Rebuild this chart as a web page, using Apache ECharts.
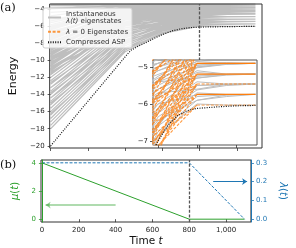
<!DOCTYPE html>
<html><head><meta charset="utf-8">
<script src="https://cdn.jsdelivr.net/npm/echarts@6/dist/echarts.min.js"></script>
<style>html,body{margin:0;padding:0;background:#fff}#c{width:296px;height:248px}</style>
</head><body><div id="c"></div>
<script>
// ---------------- data ----------------
const xTicks = [0, 200, 400, 600, 800, 1000];
const energyTicks = [-20, -18, -16, -14, -12, -10, -8, -6, -4];
const insetXTicks = [600, 800, 1000];
const insetYTicks = [-7, -6, -5];
const muTicks = [0, 2, 4];
const lamTicks = [0, 0.1, 0.2, 0.3];

// instantaneous lambda(t) eigenstates, energy at each time of grayT
const grayT = [0, 400, 600, 800, 950, 1100];
const grayE0 = [-18.0,-17.6,-17.2,-16.8,-16.4,-16.0,-15.6,-15.2,-14.8,-14.4,-14.0,-13.6,-13.2,-12.8,-12.4,-12.0,
  -11.7,-11.4,-11.1,-10.8,-10.5,-10.2,-9.9,-9.6,-9.3,-9.0,-8.7,-8.4,-8.1,-7.8,-7.5,-7.2,-6.9,-6.6,-6.3,-6.0,
  -5.6,-5.2,-4.8,-4.4,-4.0,-3.6,-3.2,-2.8,
  -16.2,-15.0,-13.8,-12.6,-14.4,-13.2,-11.0,-10.0,
  -11.55,-11.25,-10.95,-10.65,-10.35,-10.05,-9.75,-9.45,-9.15,-8.85,-8.55,-8.25,-7.95,-7.65,-7.35,-7.05,-6.75,-6.45,-6.15,-5.85,
  -3.9,-3.5,-3.3,-3.0,
  -9.2,-8.4,-7.6,-6.8,-6.0,-5.4];
const grayE400 = [-9.0,-8.8,-8.55,-8.3,-8.1,-7.85,-7.6,-7.4,-7.15,-6.9,-6.7,-6.45,-6.2,-6.0,-5.75,-5.5,
  -5.3,-6.2,-5.0,-5.9,-4.8,-5.6,-4.6,-5.3,-4.4,-5.1,-4.3,-4.9,-4.1,-4.7,-4.0,-4.5,-3.9,-4.4,-3.8,-4.2,
  -3.8,-4.0,-3.6,-3.9,-3.5,-3.7,-3.4,-3.6,
  -8.6,-8.0,-7.3,-6.6,-7.7,-7.0,-6.4,-5.8,
  -5.9,-5.2,-5.7,-5.0,-5.5,-4.8,-5.2,-4.6,-5.0,-4.5,-4.8,-4.3,-4.6,-4.2,-4.4,-4.0,-4.2,-3.8,-4.0,-3.7,
  -3.7,-3.5,-3.45,-3.5,
  -4.9,-4.6,-4.3,-4.1,-3.9,-3.8];
const grayE600 = [-6.85,-6.75,-6.6,-6.5,-6.35,-6.25,-6.1,-6.0,-5.85,-5.75,-5.6,-5.5,-5.35,-5.25,-5.1,-5.0,
  -4.9,-5.6,-4.7,-5.4,-4.5,-5.2,-4.3,-5.0,-4.2,-4.9,-4.1,-4.7,-4.0,-4.5,-3.9,-4.3,-3.8,-4.2,-3.7,-4.1,
  -3.7,-3.9,-3.55,-3.8,-3.45,-3.6,-3.35,-3.5,
  -6.95,-6.6,-6.2,-5.8,-6.45,-6.0,-5.7,-5.4,
  -5.3,-4.8,-5.1,-4.6,-4.9,-4.4,-4.7,-4.3,-4.55,-4.2,-4.4,-4.0,-4.25,-3.9,-4.1,-3.8,-3.95,-3.6,-3.8,-3.5,
  -3.65,-3.5,-3.4,-3.45,
  -4.4,-4.2,-4.0,-3.85,-3.7,-3.6];
const grayE800 = [-6.0,-5.9,-5.8,-5.7,-5.62,-5.5,-5.4,-5.3,-5.22,-5.1,-5.02,-4.95,-4.85,-4.75,-4.65,-4.55,
  -4.5,-5.15,-4.4,-5.0,-4.3,-4.85,-4.2,-4.7,-4.1,-4.6,-4.0,-4.45,-3.9,-4.3,-3.8,-4.2,-3.7,-4.1,-3.6,-4.0,
  -3.6,-3.85,-3.5,-3.75,-3.4,-3.55,-3.3,-3.45,
  -5.5,-5.25,-5.0,-4.95,-5.9,-5.75,-5.6,-5.3,
  -4.9,-4.5,-4.75,-4.35,-4.6,-4.15,-4.45,-4.05,-4.3,-3.95,-4.15,-3.8,-4.0,-3.7,-3.9,-3.6,-3.75,-3.5,-3.65,-3.4,
  -3.62,-3.48,-3.38,-3.42,
  -4.25,-4.05,-3.92,-3.78,-3.66,-3.55];
const grayE950 = [-6.03,-5.8,-5.75,-5.74,-5.5,-5.47,-5.46,-5.22,-5.2,-5.19,-4.93,-4.91,-4.9,-4.65,-4.63,-4.62,
  -4.38,-5.2,-4.36,-4.92,-4.36,-4.64,-4.12,-4.63,-4.11,-4.36,-3.88,-4.37,-3.87,-4.12,-3.63,-4.11,-3.62,-3.88,-3.4,-3.87,
  -3.6,-3.85,-3.6,-3.85,-3.35,-3.6,-3.35,-3.35,
  -5.47,-5.2,-4.92,-4.91,-5.76,-5.75,-5.47,-5.2,
  -4.88,-4.49,-4.62,-4.24,-4.49,-4.22,-4.47,-3.99,-4.24,-3.98,-4.23,-3.74,-3.98,-3.73,-3.97,-3.49,-3.73,-3.48,-3.72,-3.47,
  -3.6,-3.47,-3.35,-3.47,
  -4.3,-4.16,-4.03,-3.91,-3.79,-3.66];
const grayE1100 = [-6.03,-5.74,-5.74,-5.74,-5.46,-5.46,-5.46,-5.19,-5.19,-5.19,-4.9,-4.9,-4.9,-4.62,-4.62,-4.62,
  -4.35,-5.19,-4.35,-4.9,-4.35,-4.62,-4.1,-4.62,-4.1,-4.35,-3.85,-4.35,-3.85,-4.1,-3.6,-4.1,-3.6,-3.85,-3.35,-3.85,
  -3.6,-3.85,-3.6,-3.85,-3.35,-3.6,-3.35,-3.35,
  -5.46,-5.19,-4.9,-4.9,-5.74,-5.74,-5.46,-5.19,
  -4.9,-4.48,-4.62,-4.22,-4.48,-4.22,-4.48,-3.97,-4.22,-3.97,-4.22,-3.72,-3.97,-3.72,-3.97,-3.47,-3.72,-3.47,-3.72,-3.47,
  -3.6,-3.47,-3.35,-3.47,
  -4.29,-4.16,-4.03,-3.91,-3.79,-3.66];

// compressed ASP energy
const groundT = [0, 100, 200, 300, 400, 430, 470, 510, 560, 600, 650, 700, 750, 800, 900, 1000, 1100];
const groundE = [-20, -17.4, -14.8, -12.2, -9.6, -8.85, -8.35, -7.95, -7.4, -7.0, -6.58, -6.32, -6.18, -6.12, -6.08, -6.05, -6.04];

// lambda = 0 eigenstates: start energies (at orangeStartT) converging to each level at t = 800
const orangeStartT = 550;
const orangeSwitchT = 800;
const orangeEndT = 1100;
const orangeLevels = [-6.03, -5.74, -5.46, -5.19, -4.90, -4.62, -4.35, -4.10, -3.85, -3.60];
const orangeStarts = [
  [-7.4, -7.1],
  [-7.5, -7.0, -6.6],
  [-7.6, -7.2, -6.8, -6.3],
  [-7.8, -7.3, -6.9, -6.5, -6.0],
  [-7.9, -7.5, -7.0, -6.6, -6.2, -5.8],
  [-7.6, -7.0, -6.5, -6.0, -5.6],
  [-7.2, -6.6, -6.1, -5.6, -5.2],
  [-6.8, -6.2, -5.7, -5.2],
  [-6.4, -5.8, -5.3, -4.9],
  [-6.0, -5.4, -4.9]
];
const orangeSolidLevels = [-5.74, -5.19, -4.90];
const orangeDashedLevels = [-6.03, -5.46];

// panel (b)
const muT = [0, 800, 1100];
const muV = [4, 0, 0];
const lamT = [0, 800, 1100];
const lamV = [0.3, 0.3, 0];
const muArrow = [[400, 1], [20, 1]];
const lamArrow = [[930, 0.2], [1114, 0.2]];
const switchT = 800;

// ---------------- build ----------------
const FONT = 'DejaVu Sans';
function multiLines(T, cols) {
  const out = [];
  const n = cols[0].length;
  for (let i = 0; i < n; i++) {
    for (let k = 0; k < T.length; k++) out.push([T[k], cols[k][i]]);
    out.push([T[T.length - 1], '-']);
  }
  return out;
}
const grayData = multiLines(grayT, [grayE0, grayE400, grayE600, grayE800, grayE950, grayE1100]);
const groundData = groundT.map((t, i) => [t, groundE[i]]);
const fanData = [];
orangeLevels.forEach((L, j) => {
  orangeStarts[j].forEach(s => {
    fanData.push([orangeStartT, s]); fanData.push([orangeSwitchT, L]); fanData.push([orangeSwitchT, '-']);
  });
});
function levelData(levels) {
  const out = [];
  levels.forEach(L => { out.push([orangeSwitchT, L]); out.push([orangeEndT, L]); out.push([orangeEndT, '-']); });
  return out;
}
const minus = v => (v < 0 ? '\u2212' : '') + Math.abs(v);

const base = { type: 'line', symbol: 'none', showSymbol: false, animation: false, silent: true, clip: true,
  emphasis: { disabled: true }, connectNulls: false };
const vline = () => ({ silent: true, symbol: 'none', animation: false, label: { show: false },
  lineStyle: { color: '#555', width: 1.3, type: [3, 1.6] }, emphasis: { disabled: true },
  data: [{ xAxis: switchT }] });
const tickStyle = (c) => ({ show: true, inside: false, length: 3, lineStyle: { color: c, width: 0.8 } });

const GREEN = '#2ca02c', BLUE = '#1f77b4', ORANGE = '#ff7f0e', GRAY = '#bebebe', BLACK = '#111';
const GRAY_W = 1.2;

const option = {
  animation: false,
  legend: {
    z: 20, left: 43, top: 8, orient: 'vertical', selectedMode: false,
    data: ['gray', 'orange', 'asp'],
    formatter: n => ({ gray: 'Instantaneous\n{i|λ(t)} eigenstates', orange: '{i|λ} = 0 Eigenstates', asp: 'Compressed ASP' })[n],
    textStyle: { fontSize: 7, fontFamily: FONT, color: '#333', lineHeight: 7.5,
      rich: { i: { fontStyle: 'italic', fontSize: 7, fontFamily: FONT, color: '#333', lineHeight: 7.5 } } },
    itemWidth: 13, itemHeight: 6, itemGap: 3, padding: [2, 4, 2, 4],
    itemStyle: { opacity: 0 },
    backgroundColor: 'rgba(255,255,255,0.82)', borderColor: '#cccccc', borderWidth: 1, borderRadius: 2
  },
  grid: [
    { left: 41, top: 4, width: 221, height: 144, show: true, z: 5, backgroundColor: 'transparent', borderColor: '#333', borderWidth: 1 },
    { left: 153, top: 60, width: 104, height: 85, show: true, z: 10, backgroundColor: '#fff', borderColor: '#555', borderWidth: 1 },
    { left: 41, top: 160, width: 221, height: 65, show: true, z: 5, backgroundColor: 'transparent', borderColor: '#333', borderWidth: 1 }
  ],
  xAxis: [
    { gridIndex: 0, type: 'value', min: -5, max: 1135, axisLine: { show: false }, splitLine: { show: false },
      axisTick: Object.assign(tickStyle('#333'), { customValues: xTicks }), axisLabel: { show: false } },
    { gridIndex: 1, type: 'value', min: 574, max: 1108, z: 11, axisLine: { show: false }, splitLine: { show: false },
      axisTick: Object.assign(tickStyle('#333'), { customValues: insetXTicks }), axisLabel: { show: false } },
    { gridIndex: 2, type: 'value', min: -5, max: 1135, axisLine: { show: false }, splitLine: { show: false },
      axisTick: Object.assign(tickStyle('#333'), { customValues: xTicks }),
      axisLabel: { customValues: xTicks, fontSize: 7, fontFamily: FONT, color: '#222', margin: 4.5 },
      name: 'Time {i|t}', nameLocation: 'middle', nameGap: 14,
      nameTextStyle: { fontSize: 10.5, fontFamily: FONT, color: '#111',
        rich: { i: { fontStyle: 'italic', fontSize: 10.5, fontFamily: FONT, color: '#111' } } } }
  ],
  yAxis: [
    { gridIndex: 0, type: 'value', min: -20.25, max: -3.42, axisLine: { show: false }, splitLine: { show: false },
      axisTick: Object.assign(tickStyle('#333'), { customValues: energyTicks }),
      axisLabel: { customValues: energyTicks, formatter: minus, fontSize: 7, fontFamily: FONT, color: '#222', margin: 5 },
      name: 'Energy', nameLocation: 'middle', nameGap: 22,
      nameTextStyle: { fontSize: 11, fontFamily: FONT, color: '#111' } },
    { gridIndex: 1, type: 'value', min: -7.11, max: -4.81, z: 11, axisLine: { show: false }, splitLine: { show: false },
      axisTick: Object.assign(tickStyle('#333'), { customValues: insetYTicks }),
      axisLabel: { customValues: insetYTicks, formatter: minus, fontSize: 7, fontFamily: FONT, color: '#222', margin: 5 } },
    { gridIndex: 2, type: 'value', min: -0.2, max: 4.2, z: 6, position: 'left',
      axisLine: { show: true, lineStyle: { color: GREEN, width: 1 } }, splitLine: { show: false },
      axisTick: Object.assign(tickStyle(GREEN), { customValues: muTicks }),
      axisLabel: { customValues: muTicks, fontSize: 7, fontFamily: FONT, color: GREEN, margin: 5 },
      name: '{i|μ}({i|t})', nameLocation: 'middle', nameGap: 14,
      nameTextStyle: { fontSize: 10, fontFamily: FONT, color: GREEN,
        rich: { i: { fontStyle: 'italic', fontSize: 10, fontFamily: FONT, color: GREEN } } } },
    { gridIndex: 2, type: 'value', min: -0.015, max: 0.315, z: 6, position: 'right',
      axisLine: { show: true, lineStyle: { color: BLUE, width: 1 } }, splitLine: { show: false },
      axisTick: Object.assign(tickStyle(BLUE), { customValues: lamTicks }),
      axisLabel: { customValues: lamTicks, formatter: v => v.toFixed(1), fontSize: 7, fontFamily: FONT, color: BLUE, margin: 5 },
      name: '{i|λ}({i|t})', nameLocation: 'middle', nameGap: 22, nameRotate: -90,
      nameTextStyle: { fontSize: 10, fontFamily: FONT, color: BLUE,
        rich: { i: { fontStyle: 'italic', fontSize: 10, fontFamily: FONT, color: BLUE } } } }
  ],
  series: [
    Object.assign({}, base, { name: 'gray', color: GRAY, xAxisIndex: 0, yAxisIndex: 0, z: 2, data: grayData,
      lineStyle: { color: GRAY, width: GRAY_W } }),
    Object.assign({}, base, { name: 'asp', color: BLACK, xAxisIndex: 0, yAxisIndex: 0, z: 3, data: groundData,
      lineStyle: { color: BLACK, width: 1.2, type: [1, 1.4] }, markLine: vline() }),
    // inset
    Object.assign({}, base, { name: 'grayInset', color: GRAY, xAxisIndex: 1, yAxisIndex: 1, z: 12, data: grayData,
      lineStyle: { color: GRAY, width: 1 } }),
    Object.assign({}, base, { name: 'orange', color: ORANGE, xAxisIndex: 1, yAxisIndex: 1, z: 13, data: fanData,
      lineStyle: { color: ORANGE, width: 1.1, type: [3, 1.6], opacity: 0.8 } }),
    Object.assign({}, base, { name: 'orangeSolid', color: ORANGE, xAxisIndex: 1, yAxisIndex: 1, z: 13, data: levelData(orangeSolidLevels),
      lineStyle: { color: ORANGE, width: 1.3 } }),
    Object.assign({}, base, { name: 'orangeDashed', color: ORANGE, xAxisIndex: 1, yAxisIndex: 1, z: 13, data: levelData(orangeDashedLevels),
      lineStyle: { color: ORANGE, width: 1.3, type: [3, 1.6], opacity: 0.55 } }),
    Object.assign({}, base, { name: 'aspInset', color: BLACK, xAxisIndex: 1, yAxisIndex: 1, z: 14, data: groundData,
      lineStyle: { color: BLACK, width: 1.2, type: [1, 1.4] }, markLine: vline() }),
    // panel b
    Object.assign({}, base, { name: 'mu', color: GREEN, xAxisIndex: 2, yAxisIndex: 2, z: 3, data: muT.map((t, i) => [t, muV[i]]),
      lineStyle: { color: GREEN, width: 1 },
      markLine: { silent: true, animation: false, symbol: ['none', 'arrow'], symbolSize: [5, 5], label: { show: false },
        lineStyle: { color: 'rgba(44,160,44,0.5)', width: 1.5, type: 'solid' }, emphasis: { disabled: true },
        data: [[{ coord: muArrow[0] }, { coord: muArrow[1] }]] } }),
    Object.assign({}, base, { name: 'lam', color: BLUE, xAxisIndex: 2, yAxisIndex: 3, z: 3, data: lamT.map((t, i) => [t, lamV[i]]),
      lineStyle: { color: BLUE, width: 1, type: [3, 1.6] },
      markLine: { silent: true, animation: false, symbol: ['none', 'arrow'], symbolSize: [5, 5], label: { show: false },
        lineStyle: { color: BLUE, width: 1, type: 'solid' }, emphasis: { disabled: true },
        data: [[{ coord: lamArrow[0] }, { coord: lamArrow[1] }]] } }),
    Object.assign({}, base, { name: 'vb', xAxisIndex: 2, yAxisIndex: 2, z: 4, data: [], markLine: vline() })
  ],
  graphic: [
    { type: 'text', left: 0, top: 2, z: 30, style: { text: '(a)', font: '11.5px "DejaVu Serif"', fill: '#111' } },
    { type: 'text', left: 0, top: 159, z: 30, style: { text: '(b)', font: '11.5px "DejaVu Serif"', fill: '#111' } }
  ]
};
const chart = echarts.init(document.getElementById('c'), null, { renderer: 'canvas' });
chart.setOption(option);
</script></body></html>
